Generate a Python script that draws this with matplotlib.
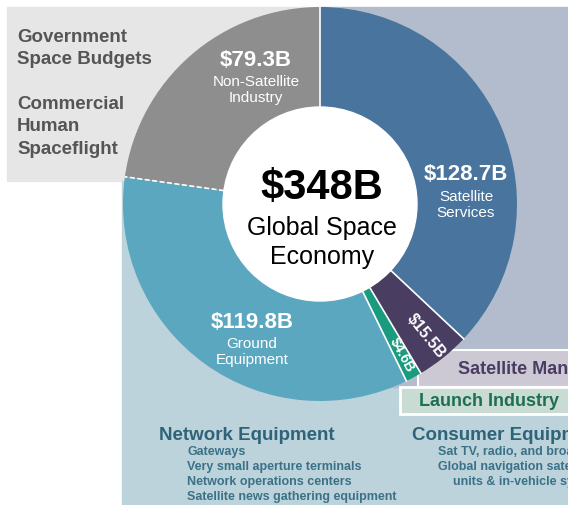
import numpy as np
import matplotlib.pyplot as plt
from matplotlib.patches import Rectangle, Circle

plt.rcParams['font.family'] = ['Liberation Sans', 'DejaVu Sans']

# segments in drawing order (clockwise from 12 o'clock)
segments = ['Satellite Services', 'Satellite Manufacturing', 'Launch Industry',
            'Ground Equipment', 'Non-Satellite Industry']
values = [128.7, 15.5, 4.6, 119.8, 79.3]
value_labels = ['$128.7B', '$15.5B', '$4.6B', '$119.8B', '$79.3B']
colors = ['#49749e', '#4a3d62', '#1a9a7f', '#5ba7bf', '#8e8e8e']
total_label = '$348B'

left_notes = ['Government\nSpace Budgets', 'Commercial\nHuman\nSpaceflight']
network_items = ['Gateways', 'Very small aperture terminals',
                 'Network operations centers', 'Satellite news gathering equipment']
consumer_items = ['Sat TV, radio, and broadband', 'Global navigation satellite system',
                  'units & in-vehicle systems']

W, H = 568, 505
fig = plt.figure(figsize=(W / 100, H / 100), dpi=100)
ax = fig.add_axes([0, 0, 1, 1])


def Y(py):
    # pixel row (from top) -> data y
    return H - py


cx, cy = 320, Y(204)
r_out, r_in = 197, 97

# background panels
ax.add_patch(Rectangle((7, Y(181)), 320, 174, color='#e6e6e6', zorder=0))
ax.add_patch(Rectangle((122, 0), W - 122, Y(181), color='#bcd3dc', zorder=0))
ax.add_patch(Rectangle((321, Y(387)), W - 321, 380, color='#b2bccd', zorder=1))
ax.add_patch(Rectangle((418, Y(387)), 160, 37, facecolor='#cdc9d4',
                       edgecolor='white', lw=1.5, zorder=2))
ax.add_patch(Rectangle((400, Y(414)), 180, 27, facecolor='#c8dcd3',
                       edgecolor='white', lw=2, zorder=2))

# the donut
ax.pie(values, colors=colors, radius=r_out, center=(cx, cy), startangle=90,
       counterclock=False, frame=True,
       wedgeprops=dict(linewidth=0, zorder=3))
ax.add_patch(Circle((cx, cy), r_in, color='white', zorder=4))

# separators between slices, dashed one between ground and non-satellite
bounds = 90 - np.concatenate([[0], np.cumsum(values)]) / sum(values) * 360
for i, a in enumerate(bounds[:-1]):
    t = np.radians(a)
    ls = (0, (3, 1.5)) if i == 4 else '-'
    ax.plot([cx + r_in * np.cos(t), cx + r_out * np.cos(t)],
            [cy + r_in * np.sin(t), cy + r_out * np.sin(t)],
            color='white', lw=1.2, ls=ls, zorder=3.5)

# centre text
ax.text(322, Y(188), total_label, ha='center', va='center', fontsize=30,
        fontweight='bold', color='black', zorder=5)
ax.text(322, Y(228), 'Global Space', ha='center', va='center', fontsize=18, zorder=5)
ax.text(322, Y(257), 'Economy', ha='center', va='center', fontsize=18, zorder=5)

# big slice labels
big = {0: (466, 175, 'Satellite\nServices'),
       3: (252, 322, 'Ground\nEquipment'),
       4: (256, 60, 'Non-Satellite\nIndustry')}
for i, (px, py, name) in big.items():
    ax.text(px, Y(py), value_labels[i], ha='center', va='center', fontsize=16,
            fontweight='bold', color='white', zorder=5)
    ax.text(px, Y(py + 15), name, ha='center', va='top', fontsize=11,
            color='white', linespacing=1.2, zorder=5)

# small slice labels, rotated along the radius
for i, rr, fs in [(1, 170, 11.5), (2, 172, 10)]:
    mid = (bounds[i] + bounds[i + 1]) / 2
    t = np.radians(mid)
    ax.text(cx + rr * np.cos(t), cy + rr * np.sin(t), value_labels[i],
            rotation=mid, rotation_mode='anchor', ha='center', va='center',
            fontsize=fs, fontweight='bold', color='white', zorder=5)

# left notes
ax.text(17, Y(29), left_notes[0], ha='left', va='top', fontsize=13.5,
        fontweight='bold', color='#555555', linespacing=1.38, zorder=5)
ax.text(17, Y(96), left_notes[1], ha='left', va='top', fontsize=13.5,
        fontweight='bold', color='#555555', linespacing=1.42, zorder=5)

# box labels
ax.text(458, Y(369), segments[1], ha='left', va='center', fontsize=13,
        fontweight='bold', color='#4a3d62', zorder=5)
ax.text(419, Y(401), segments[2], ha='left', va='center', fontsize=13,
        fontweight='bold', color='#1f6e55', zorder=5)

# lower descriptions
ax.text(159, Y(436), 'Network Equipment', ha='left', va='center', fontsize=13.5,
        fontweight='bold', color='#2f6378', zorder=5)
for k, item in enumerate(network_items):
    ax.text(187, Y(452 + 15 * k), item, ha='left', va='center', fontsize=9,
            fontweight='bold', color='#3b7187', zorder=5)
ax.text(412, Y(436), 'Consumer Equipment', ha='left', va='center', fontsize=13.5,
        fontweight='bold', color='#2f6378', zorder=5)
for k, (item, px) in enumerate(zip(consumer_items, [438, 438, 453])):
    ax.text(px, Y(452 + 15 * k), item, ha='left', va='center', fontsize=9,
            fontweight='bold', color='#3b7187', zorder=5)

ax.set_xlim(0, W)
ax.set_ylim(0, H)
ax.set_aspect('equal')
ax.axis('off')
fig.savefig('out.png', dpi=100)
